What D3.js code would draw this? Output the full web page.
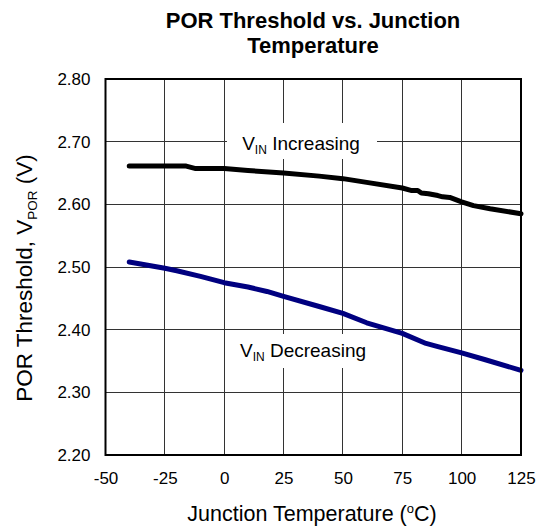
<!DOCTYPE html>
<html>
<head>
<meta charset="utf-8">
<script src="https://cdn.jsdelivr.net/npm/d3@7/dist/d3.min.js"></script>
<style>
  html, body { margin: 0; padding: 0; background: #fff; }
  svg { display: block; }
  text { font-family: Arial, "Liberation Sans", Helvetica, sans-serif; fill: #000; }
</style>
</head>
<body>
<svg id="chart" width="539" height="529"></svg>
<script>
// ---- data ----
const xTicks = [-50, -25, 0, 25, 50, 75, 100, 125];
const yTicks = [2.20, 2.30, 2.40, 2.50, 2.60, 2.70, 2.80];

const incTemp = [-40, -30, -20, -16, -12, -5, 0, 10, 25, 40, 50, 60, 75, 79, 81.5, 83, 86, 90, 92, 95, 100, 105, 112, 125];
const incVal  = [2.661, 2.661, 2.661, 2.661, 2.657, 2.657, 2.657, 2.654, 2.650, 2.645, 2.641, 2.635, 2.626, 2.622, 2.622, 2.618, 2.617, 2.614, 2.612, 2.611, 2.604, 2.598, 2.593, 2.585];

const decTemp = [-40, -25, -20, -10, 0, 10, 18, 25, 40, 50, 60, 75, 85, 90, 100, 110, 125];
const decVal  = [2.508, 2.498, 2.494, 2.485, 2.475, 2.468, 2.461, 2.453, 2.437, 2.426, 2.411, 2.394, 2.378, 2.373, 2.363, 2.352, 2.335];

// ---- layout ----
const svg = d3.select("#chart");
const L = 105.5, R = 521, T = 79, B = 455;

const x = d3.scaleLinear().domain([-50, 125]).range([L, R]);
const y = d3.scaleLinear().domain([2.2, 2.8]).range([B, T]);

svg.append("rect").attr("width", 539).attr("height", 529).attr("fill", "#fff");

// grid
const grid = svg.append("g").attr("stroke", "#333").attr("stroke-width", 1).attr("shape-rendering", "crispEdges");
grid.selectAll("line.v").data(xTicks.slice(1, -1)).join("line")
  .attr("x1", d => x(d)).attr("x2", d => x(d)).attr("y1", T).attr("y2", B);
grid.selectAll("line.h").data(yTicks.slice(1, -1)).join("line")
  .attr("y1", d => y(d)).attr("y2", d => y(d)).attr("x1", L).attr("x2", R);

// label boxes (white masks over grid)
svg.append("rect").attr("x", 227).attr("y", 123).attr("width", 150).attr("height", 36).attr("fill", "#fff");
svg.append("rect").attr("x", 231).attr("y", 334).attr("width", 145).attr("height", 34).attr("fill", "#fff");

// lines
const line = d3.line().x(d => x(d[0])).y(d => y(d[1]));
svg.append("path").datum(incTemp.map((t, i) => [t, incVal[i]]))
  .attr("d", line).attr("fill", "none").attr("stroke", "#000").attr("stroke-width", 5)
  .attr("stroke-linejoin", "round").attr("stroke-linecap", "round");
svg.append("path").datum(decTemp.map((t, i) => [t, decVal[i]]))
  .attr("d", line).attr("fill", "none").attr("stroke", "#000080").attr("stroke-width", 5)
  .attr("stroke-linejoin", "round").attr("stroke-linecap", "round");

// frame
svg.append("rect").attr("x", L).attr("y", T).attr("width", R - L).attr("height", B - T)
  .attr("fill", "none").attr("stroke", "#000").attr("stroke-width", 2);

// axes
const yAxis = d3.axisLeft(y).tickValues(yTicks).tickFormat(d3.format(".2f")).tickSize(0).tickPadding(15);
const gy = svg.append("g").attr("transform", `translate(${L},0)`).call(yAxis);
const xAxis = d3.axisBottom(x).tickValues(xTicks).tickFormat(d => String(d)).tickSize(0).tickPadding(17);
const gx = svg.append("g").attr("transform", `translate(0,${B})`).call(xAxis);
[gx, gy].forEach(g => {
  g.select(".domain").remove();
  g.selectAll("text").attr("font-size", 17).attr("font-family", "Arial, 'Liberation Sans', sans-serif").attr("fill", "#000");
});

// annotations
function vin(cx, base, word) {
  const t = svg.append("text").attr("x", cx).attr("y", base).attr("text-anchor", "middle").attr("font-size", 19);
  t.append("tspan").text("V");
  t.append("tspan").attr("font-size", 12).attr("dy", 4).text("IN");
  t.append("tspan").attr("dy", -4).text(" " + word);
}
vin(301, 150, "Increasing");
vin(303, 357, "Decreasing");

// title
svg.append("text").attr("x", 313).attr("y", 28).attr("text-anchor", "middle")
  .attr("font-size", 22).attr("font-weight", "bold").text("POR Threshold vs. Junction");
svg.append("text").attr("x", 313).attr("y", 53).attr("text-anchor", "middle")
  .attr("font-size", 22).attr("font-weight", "bold").text("Temperature");

// x label
const xl = svg.append("text").attr("x", 312).attr("y", 521).attr("text-anchor", "middle").attr("font-size", 21.5);
xl.append("tspan").text("Junction Temperature (");
xl.append("tspan").attr("font-size", 13).attr("dy", -8).text("o");
xl.append("tspan").attr("dy", 8).text("C)");

// y label
const yl = svg.append("text").attr("transform", "translate(32,278) rotate(-90)").attr("text-anchor", "middle").attr("font-size", 22.5);
yl.append("tspan").text("POR Threshold, V");
yl.append("tspan").attr("font-size", 13.5).attr("dy", 5).text("POR");
yl.append("tspan").attr("dy", -5).text(" (V)");
</script>
</body>
</html>
